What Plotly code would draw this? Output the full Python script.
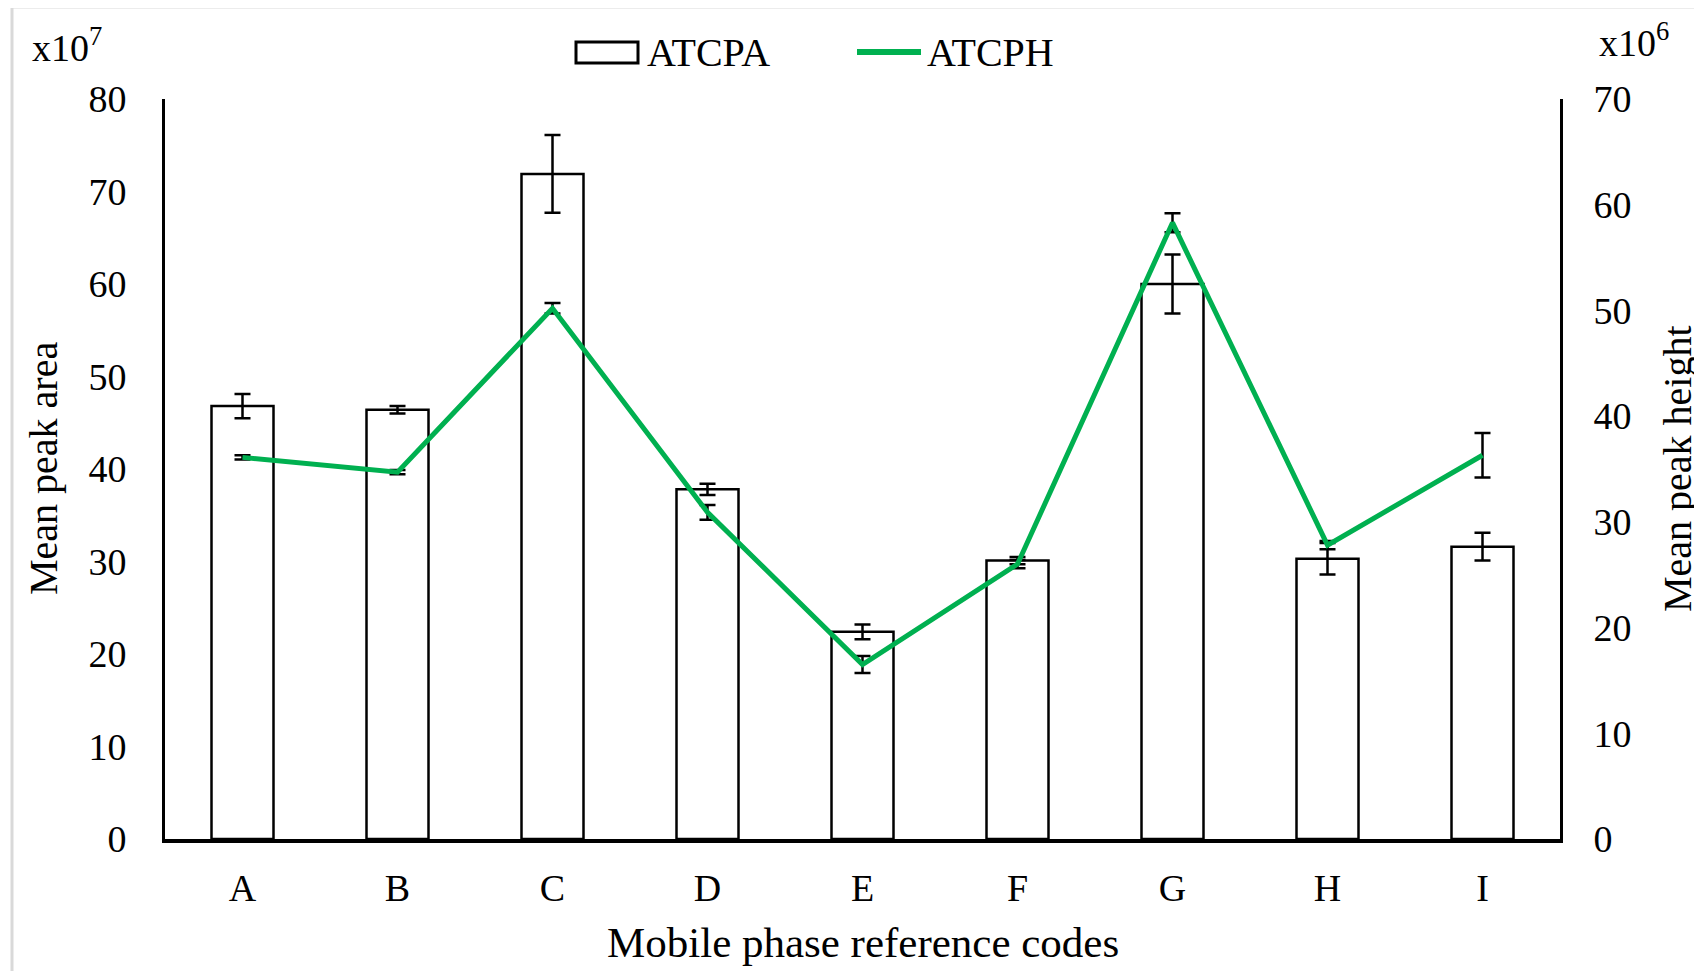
import plotly.graph_objects as go

categories = ["A", "B", "C", "D", "E", "F", "G", "H", "I"]
atcpa = [46.8, 46.4, 71.9, 37.8, 22.4, 30.1, 60.0, 30.3, 31.6]          # x10^7
atcpa_err = [1.3, 0.4, 4.2, 0.6, 0.8, 0.4, 3.2, 1.7, 1.5]
atcph = [36.1, 34.7, 50.2, 30.9, 16.5, 26.0, 58.3, 27.8, 36.3]          # x10^6
atcph_err = [0.2, 0.2, 0.5, 0.7, 0.8, 0.4, 0.9, 0.4, 2.1]
series_names = ["ATCPA", "ATCPH"]

FONT = "Liberation Serif"
FS = 38
FT = 40
GREEN = "#00B050"

# screen pixel -> paper coordinate helpers (plot area 165..1560 x 99..839 on screen)
def px(x):
    return (x - 165) / 1395

def py(y):
    return (839 - y) / 740

fig = go.Figure()
fig.add_trace(go.Bar(
    x=categories, y=atcpa, name=series_names[0], showlegend=False,
    marker=dict(color="white", line=dict(color="black", width=2.5)),
    width=0.4,
    error_y=dict(type="data", array=atcpa_err, visible=True,
                 color="black", thickness=2.5, width=8),
))
fig.add_trace(go.Scatter(
    x=categories, y=atcph, name=series_names[1], yaxis="y2", mode="lines",
    showlegend=False,
    line=dict(color=GREEN, width=5),
    error_y=dict(type="data", array=atcph_err, visible=True,
                 color="black", thickness=2.5, width=8),
))

fig.update_layout(
    width=1702, height=971,
    margin=dict(l=157, r=150, t=91, b=140),
    paper_bgcolor="white", plot_bgcolor="white",
    font=dict(family=FONT, size=FS, color="black"),
    showlegend=False,
    xaxis=dict(showgrid=False, showline=True, linecolor="black", linewidth=4,
               ticks="", tickfont=dict(size=FS), ticklabelstandoff=12),
    yaxis=dict(range=[0, 80], dtick=10, showgrid=False, showline=True,
               linecolor="black", linewidth=3, ticks="", zeroline=False,
               tickfont=dict(size=FS), ticklabelstandoff=28),
    yaxis2=dict(range=[0, 70], dtick=10, overlaying="y", side="right",
                showgrid=False, showline=True, linecolor="black", linewidth=3,
                ticks="", zeroline=False, tickfont=dict(size=FS),
                ticklabelstandoff=23),
    annotations=[
        dict(text="x10<sup>7</sup>", xref="paper", yref="paper", x=px(30), y=py(45),
             xanchor="left", yanchor="middle", showarrow=False, font=dict(size=FS)),
        dict(text="x10<sup>6</sup>", xref="paper", yref="paper", x=px(1597), y=py(40),
             xanchor="left", yanchor="middle", showarrow=False, font=dict(size=FS)),
        dict(text="Mean peak area", xref="paper", yref="paper", x=px(43), y=0.5,
             xanchor="center", yanchor="middle", textangle=-90, showarrow=False,
             font=dict(size=FT)),
        dict(text="Mean peak height", xref="paper", yref="paper", x=px(1677), y=0.5,
             xanchor="center", yanchor="middle", textangle=-90, showarrow=False,
             font=dict(size=FT)),
        dict(text="Mobile phase reference codes", xref="paper", yref="paper",
             x=0.5, y=py(942), xanchor="center", yanchor="middle", showarrow=False,
             font=dict(size=43)),
        dict(text=series_names[0], xref="paper", yref="paper", x=px(645), y=py(52),
             xanchor="left", yanchor="middle", showarrow=False, font=dict(size=FT)),
        dict(text=series_names[1], xref="paper", yref="paper", x=px(925), y=py(52),
             xanchor="left", yanchor="middle", showarrow=False, font=dict(size=FT)),
    ],
    shapes=[
        # outer light-grey chart border (top and left visible)
        dict(type="line", xref="paper", yref="paper", x0=px(12), x1=px(1720),
             y0=py(7), y1=py(7), line=dict(color="#d9d9d9", width=3)),
        dict(type="line", xref="paper", yref="paper", x0=px(12), x1=px(12),
             y0=py(7), y1=py(990), line=dict(color="#d9d9d9", width=3)),
        # legend symbols
        dict(type="rect", xref="paper", yref="paper", x0=px(576), x1=px(638),
             y0=py(42), y1=py(63), line=dict(color="black", width=3),
             fillcolor="white"),
        dict(type="line", xref="paper", yref="paper", x0=px(857), x1=px(921),
             y0=py(52), y1=py(52), line=dict(color=GREEN, width=6)),
    ],
)

fig.write_html("out.html")
